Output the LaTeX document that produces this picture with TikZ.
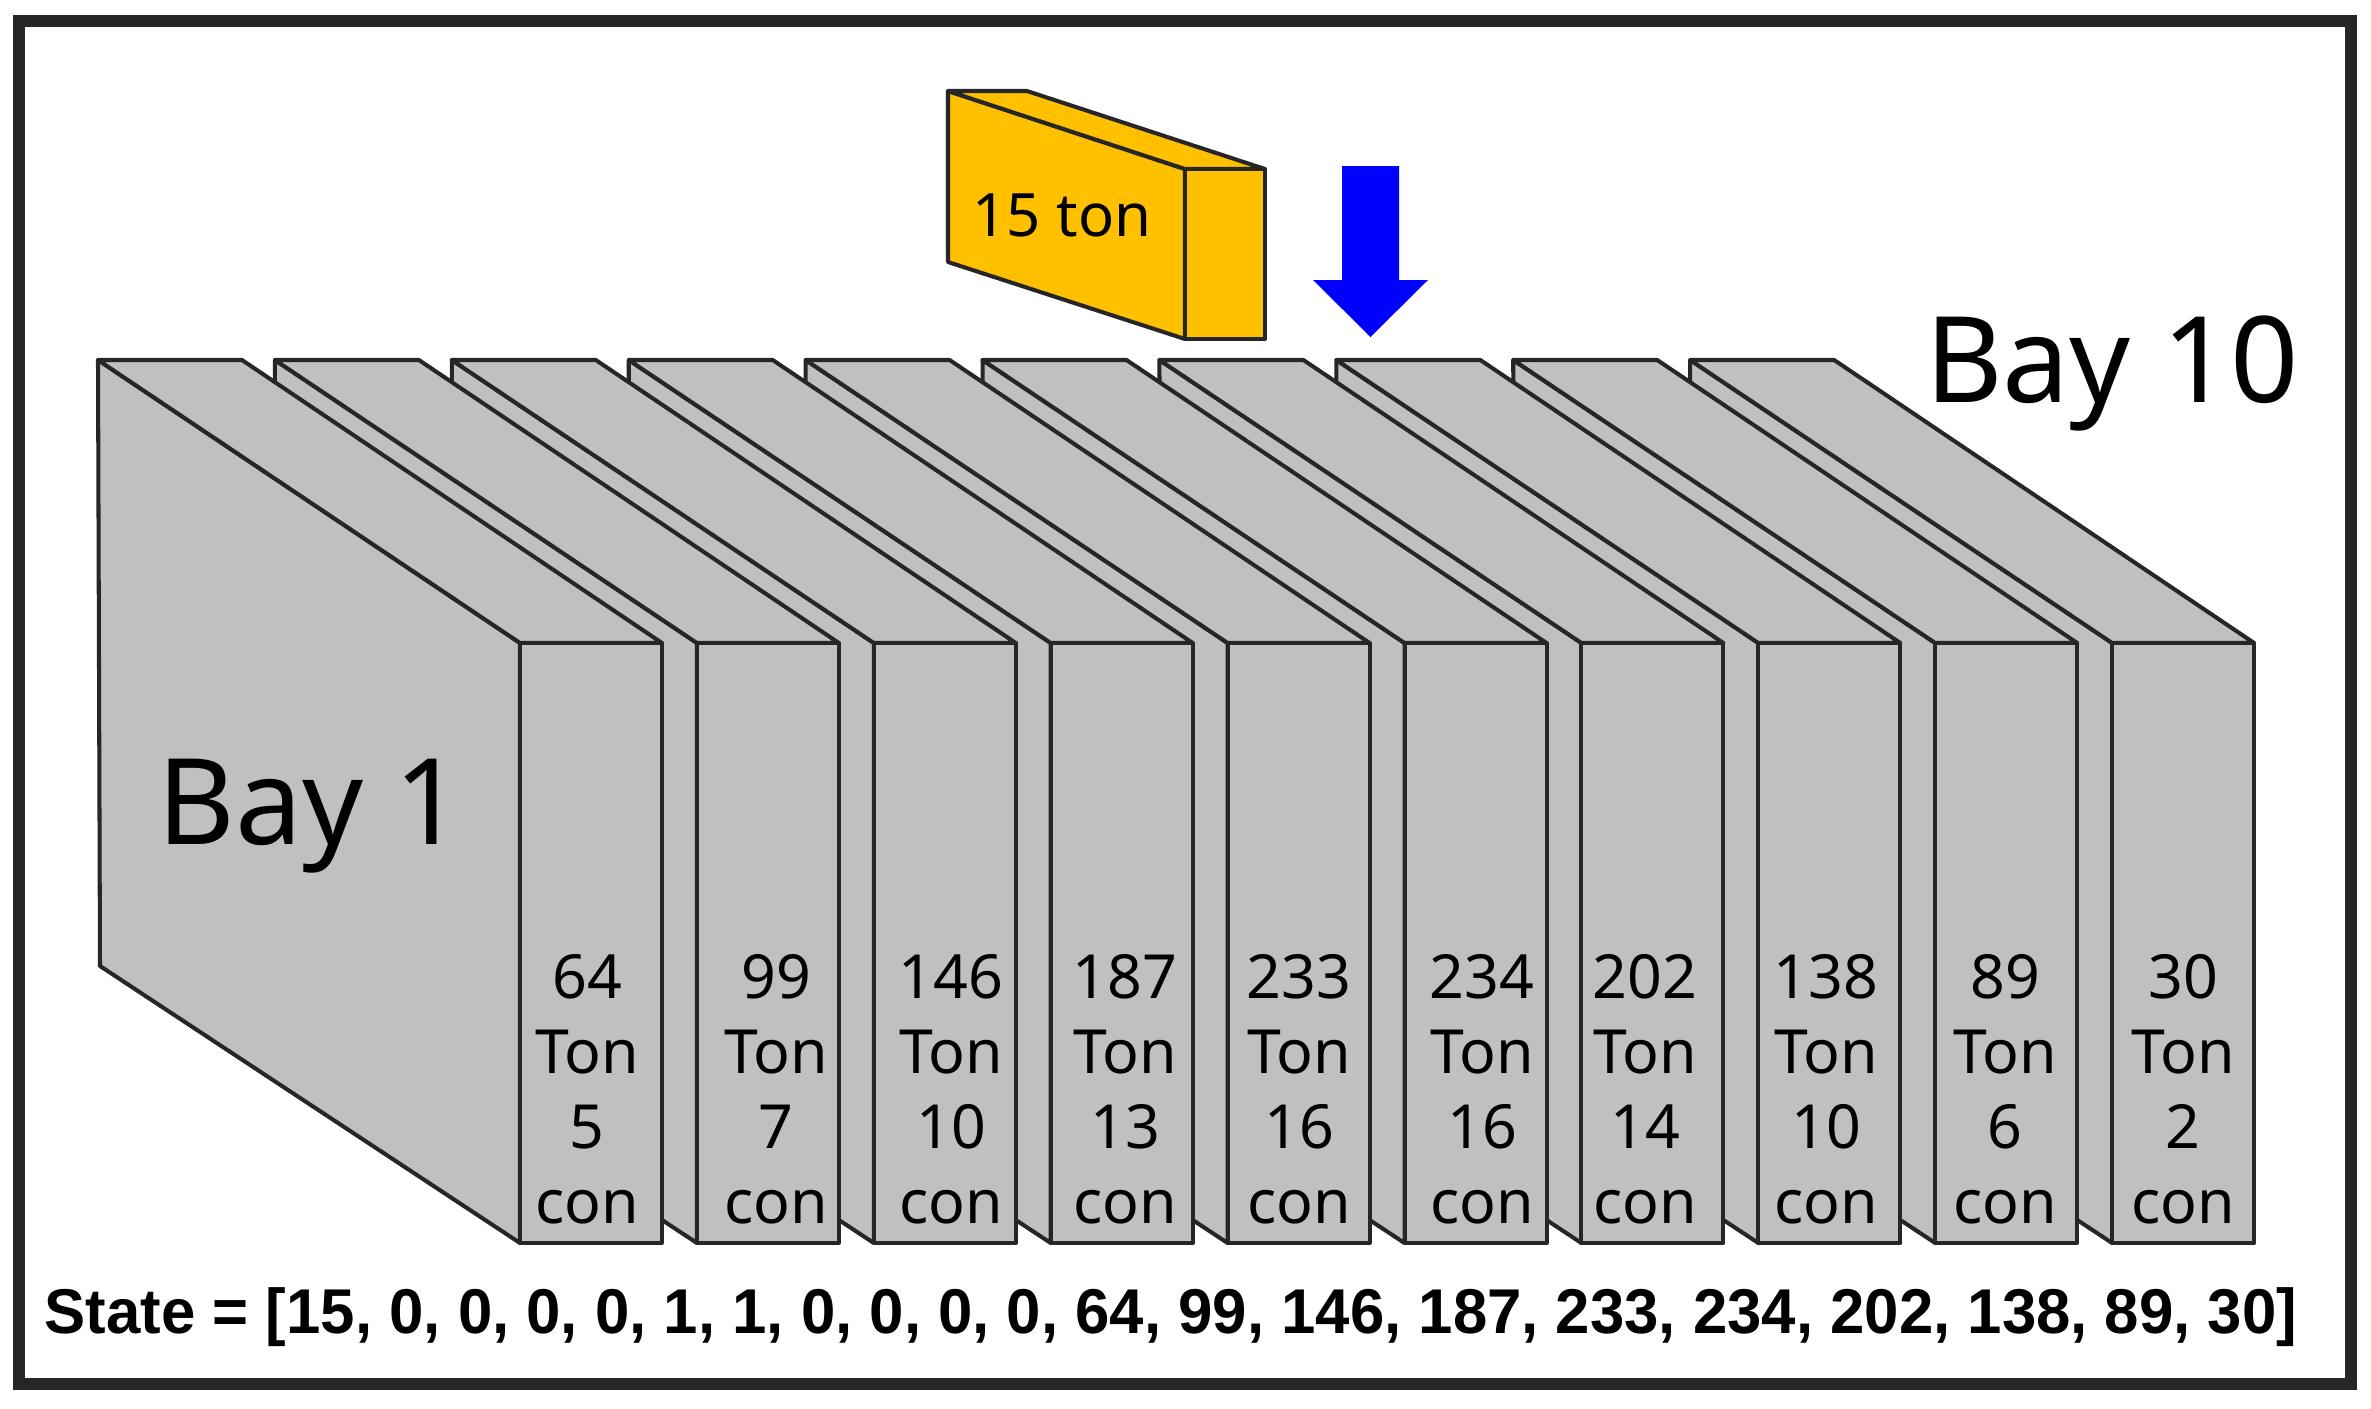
\documentclass[tikz,border=0pt]{standalone}
\usepackage{fontspec}
\setmainfont{Noto Sans}
\newfontfamily\statefont{Liberation Sans}[FakeStretch=.975]
\definecolor{baygray}{HTML}{C0C0C0}
\definecolor{boxorange}{HTML}{FFC000}
\definecolor{edgeblack}{HTML}{262626}
\tikzset{
	bayface/.style={draw=edgeblack,fill=baygray,line width=1.15pt,line join=round},
	boxface/.style={draw=edgeblack,fill=boxorange,line width=1.15pt,line join=round},
	baytext/.style={align=center,inner sep=0pt,font=\fontsize{17.3}{21.3}\selectfont},
	baytitle/.style={anchor=base,inner sep=0pt,font=\fontsize{34}{40}\selectfont}
}
\begin{document}
\begin{tikzpicture}[x=.01cm,y=-.01cm]
	\useasboundingbox (0,0) rectangle (2371,1408);
	\draw[edgeblack,line width=3.4pt] (19,21) rectangle (2351,1384);

	\foreach \i/\tons/\cons/\tx in {9/30/2/2183,8/89/6/2005,7/138/10/1826,6/202/14/1645,5/234/16/1482,4/233/16/1299,3/187/13/1125,2/146/10/951,1/99/7/776,0/64/5/587}{
		\begin{scope}[xshift=\i*1.768cm]
			\draw[bayface] (98,360)--(520,643)--(520,1243)--(100,966)--cycle;
			\draw[bayface] (98,360)--(242,360)--(662,643)--(520,643)--cycle;
			\draw[bayface] (520,643) rectangle (662,1243);
		\end{scope}
		\node[baytext] (load\i) at (\tx,1089){\tons\\Ton\\\cons\\con};
	}

	\node[baytitle] (bayfirst) at (310,844){Bay 1};
	\node[baytitle] (baylast) at (2112,402){Bay 10};

	\draw[boxface] (948,91)--(1185,169)--(1185,339)--(948,262)--cycle;
	\draw[boxface] (948,91)--(1027,91)--(1265,169)--(1185,169)--cycle;
	\draw[boxface] (1185,169) rectangle (1265,339);
	\node[anchor=base,inner sep=0pt,font=\fontsize{17}{21}\selectfont] (container) at (1062,236){15 ton};

	\fill[blue] (1342,166)--(1399,166)--(1399,280)--(1428,280)--(1370.5,337)--(1313,280)--(1342,280)--cycle;

	\node[anchor=base,inner sep=0pt,font=\statefont\bfseries\fontsize{18}{21}\selectfont] (state) at (1171,1333){State = [15, 0, 0, 0, 0, 1, 1, 0, 0, 0, 0, 64, 99, 146, 187, 233, 234, 202, 138, 89, 30]};
\end{tikzpicture}
\end{document}
